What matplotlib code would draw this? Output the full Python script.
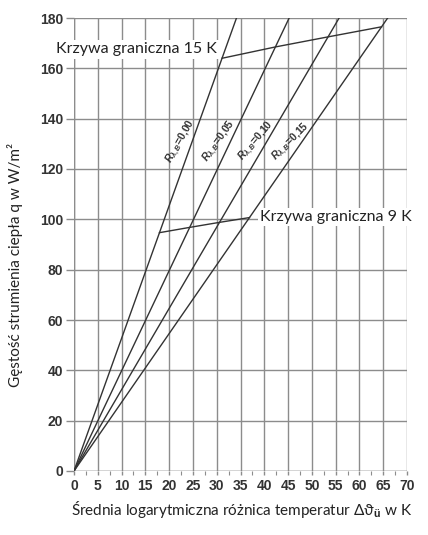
import matplotlib
matplotlib.use("Agg")
import matplotlib.pyplot as plt
import numpy as np

# opory cieplne wykładziny i nachylenia charakterystyk (q / dT)
opory = ["0,00", "0,05", "0,10", "0,15"]
nachylenia = [5.27, 3.98, 3.23, 2.73]

# krzywe graniczne: wartości q na przecięciu z każdą charakterystyką
q_15K = [164.0, 168.5, 172.5, 176.5]
q_9K = [94.7, 96.8, 98.8, 100.7]

x_ticks = np.arange(0, 71, 5)
y_ticks = np.arange(0, 181, 20)

plt.rcParams['font.family'] = ['Lato', 'DejaVu Sans']
plt.rcParams['mathtext.fontset'] = 'custom'
plt.rcParams['mathtext.rm'] = 'Liberation Sans:bold'
plt.rcParams['mathtext.it'] = 'Liberation Sans:italic:bold'

fig = plt.figure(figsize=(4.28, 5.35), dpi=100)
ax = fig.add_axes([74 / 428, 1 - 471 / 535, 333 / 428, 453 / 535])

ax.set_xlim(0, 70)
ax.set_ylim(0, 180)
ax.set_xticks(x_ticks)
ax.set_yticks(y_ticks)
ax.set_xticks(np.arange(0, 70.1, 2.5), minor=True)
ax.grid(True, which='major', color='#8c8c8c', lw=1.0)
ax.set_axisbelow(True)
for s in ax.spines.values():
    s.set_visible(False)
ax.tick_params(axis='y', length=6, width=1.0, color='#8c8c8c', pad=2)
ax.tick_params(axis='x', which='major', length=3, width=1.0, color='#8c8c8c', pad=3)
ax.tick_params(axis='x', which='minor', length=3, width=0.8, color='#8c8c8c')
for lab in ax.get_xticklabels() + ax.get_yticklabels():
    lab.set_fontfamily('Liberation Sans')
    lab.set_fontweight('bold')
    lab.set_fontsize(10)
    lab.set_color('#333333')
ax.axvline(0, color='#8c8c8c', lw=1.0, zorder=1)
ax.axhline(0, color='#8c8c8c', lw=1.0, zorder=1)

line_col = '#333333'
for r, k in zip(opory, nachylenia):
    xs = np.array([0, 180 / k])
    ax.plot(xs, k * xs, color=line_col, lw=1.0, zorder=3)
    # etykieta wzdłuż linii
    y_lab = 131
    x_lab = y_lab / k - 2.4
    p1 = ax.transData.transform((0, 0))
    p2 = ax.transData.transform((10, 10 * k))
    ang = np.degrees(np.arctan2(p2[1] - p1[1], p2[0] - p1[0]))
    ax.text(x_lab, y_lab, r'$R_{\lambda,B}$=' + r, rotation=ang - 10,
            rotation_mode='anchor', ha='center', va='center',
            fontsize=7.5, fontweight='bold', color='#333333',
            family=['Liberation Sans'], zorder=4)

x15 = [q / k for q, k in zip(q_15K, nachylenia)]
x9 = [q / k for q, k in zip(q_9K, nachylenia)]
ax.plot(x15, q_15K, color=line_col, lw=1.0, zorder=3, clip_on=False)
ax.plot(x9, q_9K, color=line_col, lw=1.0, zorder=3)

ax.text(x15[0] - 1.0, 167.5, 'Krzywa graniczna 15 K', ha='right', va='center',
        fontsize=11.5, color='#222222', zorder=5, clip_on=False,
        bbox=dict(facecolor='white', edgecolor='none', pad=1.5))
ax.text(x9[-1] + 2.3, 100.8, 'Krzywa graniczna 9 K', ha='left', va='center',
        fontsize=11.5, color='#222222', zorder=5, clip_on=False,
        bbox=dict(facecolor='white', edgecolor='none', pad=1.5))

fig.text(15 / 428, 1 - 265 / 535, 'Gęstość strumienia ciepła q w W/m²',
         rotation=90, ha='center', va='center', fontsize=11, color='#222222')
fig.text(242 / 428, 1 - 510 / 535,
         'Średnia logarytmiczna różnica temperatur Δϑ$_{\\mathrm{ü}}$ w K',
         ha='center', va='center', fontsize=11, color='#222222')

fig.savefig('out.png', dpi=100)
